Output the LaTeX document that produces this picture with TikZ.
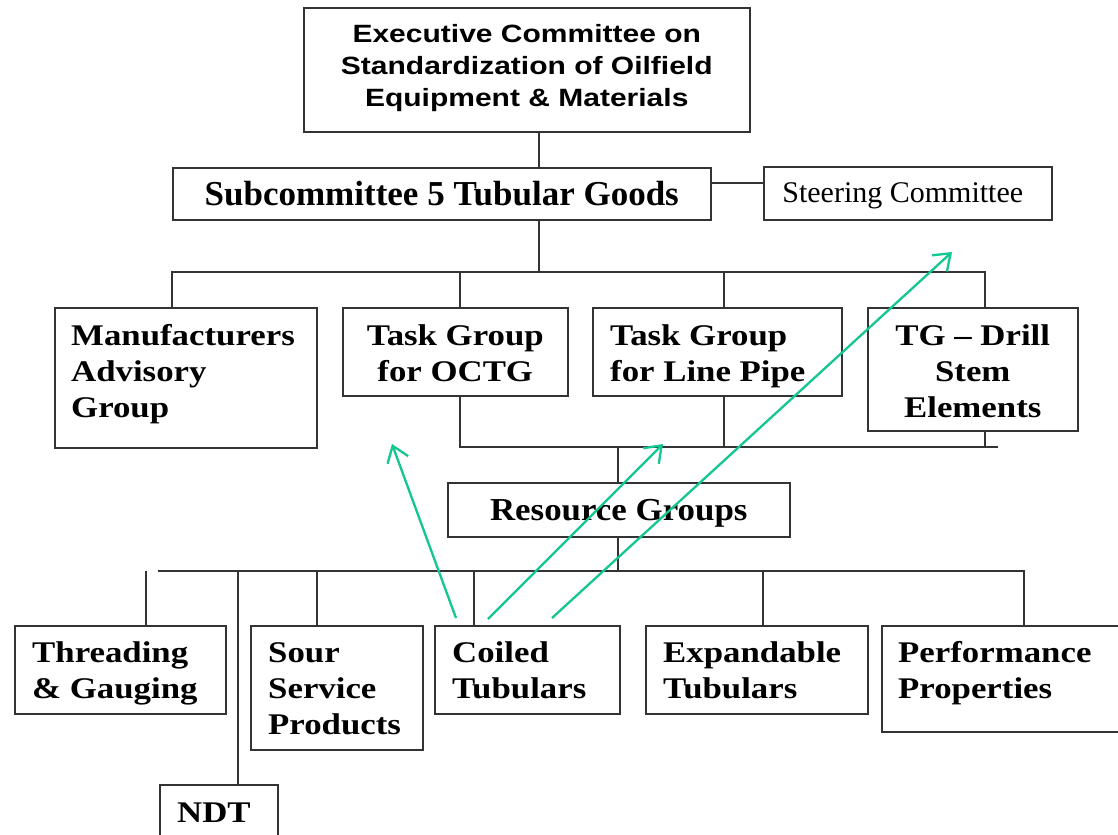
\documentclass[tikz,border=0pt]{standalone}
\usepackage{fontspec}
\usetikzlibrary{arrows.meta,calc}
\newfontfamily\serifA[FakeStretch=1.16]{Liberation Serif}
\newfontfamily\serifB[FakeStretch=1.09]{Liberation Serif}
\newfontfamily\serifN{Liberation Serif}
\newfontfamily\sansA[FakeStretch=1.2]{Liberation Sans}
\definecolor{lnk}{HTML}{14C691}
\definecolor{ink}{HTML}{333333}
\begin{document}
\begin{tikzpicture}[x=1bp,y=-1bp,
 box/.style={draw=ink, line width=1.5bp, anchor=north west, inner sep=0pt},
 lbl/.style={inner sep=0pt, anchor=base west, align=left, font=\serifA\bfseries\fontsize{30bp}{36bp}\selectfont},
 clbl/.style={inner sep=0pt, anchor=base, align=center, font=\serifA\bfseries\fontsize{30bp}{36bp}\selectfont},
 wire/.style={draw=ink, line width=1.5bp},
 link/.style={draw=lnk, line width=2.3bp, -{Straight Barb[length=15bp,width=22bp,line width=2.3bp]}}]
\useasboundingbox[fill=white] (0,0) rectangle (1118,835);
\clip (0,0) rectangle (1118,835);
% boxes
\node[box, minimum width=446bp, minimum height=124bp] (exec) at (303,7) {};
\node[box, minimum width=538bp, minimum height=52bp] (sub) at (172,167) {};
\node[box, minimum width=288bp, minimum height=53bp] (steer) at (763,166) {};
\node[box, minimum width=262bp, minimum height=140bp] (man) at (54,307) {};
\node[box, minimum width=225bp, minimum height=88bp] (octg) at (342,307) {};
\node[box, minimum width=249bp, minimum height=88bp] (lp) at (592,307) {};
\node[box, minimum width=210bp, minimum height=123bp] (tgd) at (867,307) {};
\node[box, minimum width=342bp, minimum height=54bp] (res) at (447,482) {};
\node[box, minimum width=211bp, minimum height=88bp] (thr) at (14,625) {};
\node[box, minimum width=172bp, minimum height=124bp] (sour) at (250,625) {};
\node[box, minimum width=185bp, minimum height=88bp] (coil) at (434,625) {};
\node[box, minimum width=222bp, minimum height=88bp] (exp) at (645,625) {};
\node[box, minimum width=260bp, minimum height=106bp] (perf) at (881,625) {};
\node[box, minimum width=118bp, minimum height=80bp] (ndt) at (159,784) {};
% labels (base anchor = baseline of last line)
\node[inner sep=0pt, anchor=base, align=center, font=\sansA\bfseries\fontsize{25bp}{32bp}\selectfont] (texec) at ($(exec.north)+(0,99)$) {Executive Committee on\\Standardization of Oilfield\\Equipment \& Materials};
\node[inner sep=0pt, anchor=base, font=\serifN\bfseries\fontsize{35bp}{40bp}\selectfont] (tsub) at ($(sub.north)+(0,38)$) {Subcommittee 5 Tubular Goods};
\node[inner sep=0pt, anchor=base, font=\serifN\fontsize{30bp}{36bp}\selectfont] (tsteer) at ($(steer.north)+(-5,36)$) {Steering Committee};
\node[lbl] (tman) at ($(man.north west)+(17,110)$) {Manufacturers\\Advisory\\Group};
\node[clbl] (toctg) at ($(octg.north)+(0,74)$) {Task Group\\for OCTG};
\node[lbl] (tlp) at ($(lp.north west)+(18,74)$) {Task Group\\for Line Pipe};
\node[clbl] (ttgd) at ($(tgd.north)+(0,110)$) {TG – Drill\\Stem\\Elements};
\node[inner sep=0pt, anchor=base, font=\serifB\bfseries\fontsize{32bp}{36bp}\selectfont] (tres) at ($(res.north)+(0,38)$) {Resource Groups};
\node[lbl] (tthr) at ($(thr.north west)+(18,73)$) {Threading\\\& Gauging};
\node[lbl] (tsour) at ($(sour.north west)+(18,109)$) {Sour\\Service\\Products};
\node[lbl] (tcoil) at ($(coil.north west)+(18,73)$) {Coiled\\Tubulars};
\node[lbl] (texp) at ($(exp.north west)+(18,73)$) {Expandable\\Tubulars};
\node[lbl] (tperf) at ($(perf.north west)+(17,73)$) {Performance\\Properties};
\node[lbl] (tndt) at ($(ndt.north west)+(18,38)$) {NDT};
% connector points
\coordinate (t1) at (539,272);
\coordinate (s1) at (736,183);
\coordinate (ta) at (172,272);
\coordinate (tb) at (460,272);
\coordinate (tc) at (724,272);
\coordinate (td) at (985,272);
\coordinate (ma) at (460,447);
\coordinate (mb) at (724,447);
\coordinate (mc) at (985,447);
\coordinate (me) at (998,447);
\coordinate (mr) at (618,447);
\coordinate (r0) at (618,571);
\coordinate (ba) at (158,571);
\coordinate (bz) at (1024,571);
\coordinate (st) at (146,571);
\coordinate (bn) at (238,571);
\coordinate (bs) at (317,571);
\coordinate (bc) at (474,571);
\coordinate (be) at (763,571);
% connectors
\draw[wire] (exec.south -| t1) -- (sub.north -| t1);
\draw[wire] (sub.east |- s1) -- (steer.west |- s1);
\draw[wire] (sub.south -| t1) -- (t1);
\draw[wire] (man.north -| ta) -- (ta) -- (td) -- (tgd.north -| td);
\draw[wire] (tb) -- (octg.north -| tb);
\draw[wire] (tc) -- (lp.north -| tc);
\draw[wire] (octg.south -| ma) -- (ma) -- (me);
\draw[wire] (lp.south -| mb) -- (mb);
\draw[wire] (tgd.south -| mc) -- (mc);
\draw[wire] (mr) -- (res.north -| mr);
\draw[wire] (res.south -| r0) -- (r0);
\draw[wire] (ba) -- (bz) -- (perf.north -| bz);
\draw[wire] (st) -- (thr.north -| st);
\draw[wire] (bn) -- (ndt.north -| bn);
\draw[wire] (bs) -- (sour.north -| bs);
\draw[wire] (bc) -- (coil.north -| bc);
\draw[wire] (be) -- (exp.north -| be);
% green arrows
\coordinate (a1s) at (456,618);
\coordinate (a1e) at (392,444);
\coordinate (a2s) at (488,619);
\coordinate (a2e) at (663,444);
\coordinate (a3s) at (552,618);
\coordinate (a3e) at (952,252);
\draw[link] (a1s) -- (a1e);
\draw[link] (a2s) -- (a2e);
\draw[link] (a3s) -- (a3e);
\end{tikzpicture}
\end{document}
